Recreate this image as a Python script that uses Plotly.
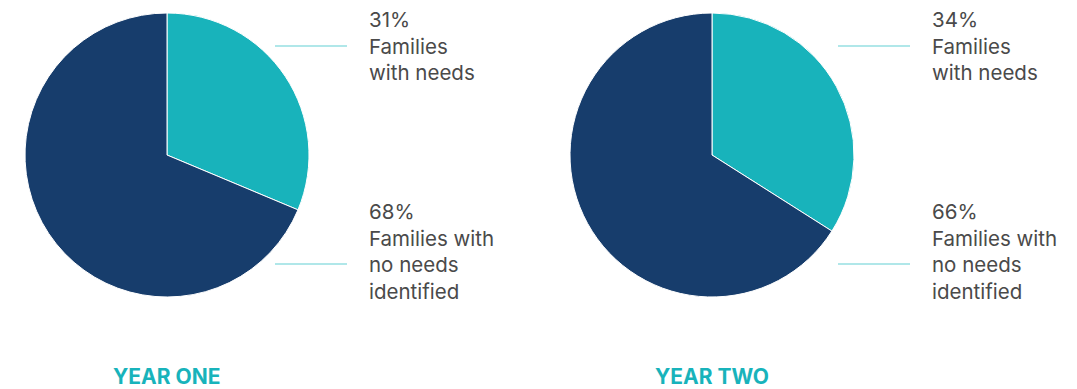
import plotly.graph_objects as go

W, H = 1077, 389

years = ["YEAR ONE", "YEAR TWO"]
categories = ["Families with needs", "Families with no needs identified"]
year_one = [31, 68]
year_two = [34, 66]
label_one = ["31%<br>Families<br>with needs", "68%<br>Families with<br>no needs<br>identified"]
label_two = ["34%<br>Families<br>with needs", "66%<br>Families with<br>no needs<br>identified"]

teal = "#18b3bb"
navy = "#173d6c"
gray = "#4a4a4a"

def px(x):
    return x / W

def py(y):
    return 1 - y / H

fig = go.Figure()

centers = [167, 712]
r = 142
for cx, vals in zip(centers, [year_one, year_two]):
    fig.add_trace(go.Pie(
        labels=categories, values=vals, sort=False, direction="clockwise", rotation=0,
        marker=dict(colors=[teal, navy], line=dict(color="white", width=1)),
        textinfo="none", hoverinfo="skip", showlegend=False,
        domain=dict(x=[px(cx - r), px(cx + r)], y=[py(155 + r), py(155 - r)]),
    ))

label_x = [367, 930]
line_x = [(275, 347), (838, 910)]
for lx, (x0, x1), labels in zip(label_x, line_x, [label_one, label_two]):
    for ly, text in zip([46, 251], labels):
        fig.add_annotation(x=px(lx), y=py(ly), xref="paper", yref="paper", text=text,
                           showarrow=False, xanchor="left", yanchor="middle", align="left",
                           font=dict(family="Inter, Liberation Sans, Arial", size=20.5, color=gray))
    for ly in [46, 264]:
        fig.add_shape(type="line", xref="paper", yref="paper", x0=px(x0), x1=px(x1),
                      y0=py(ly), y1=py(ly), line=dict(color="#62d0d4", width=1.2))

for cx, yr in zip(centers, years):
    fig.add_annotation(x=px(cx), y=py(376), xref="paper", yref="paper", text="<b>" + yr + "</b>",
                       showarrow=False, xanchor="center", yanchor="middle",
                       font=dict(family="Inter, Liberation Sans, Arial", size=21, color=teal))

fig.update_layout(width=W, height=H, margin=dict(l=0, r=0, t=0, b=0),
                  paper_bgcolor="white", plot_bgcolor="white")
fig.write_html("out.html")
